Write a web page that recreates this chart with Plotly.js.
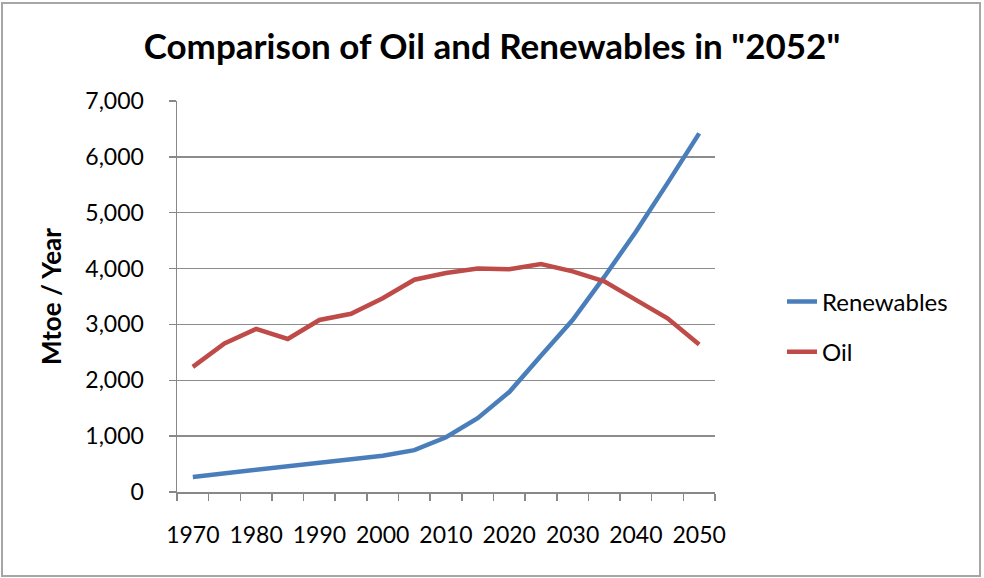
<!DOCTYPE html>
<html>
<head>
<meta charset="utf-8">
<script src="https://cdn.plot.ly/plotly-3.0.1.min.js"></script>
<style>
html,body{margin:0;padding:0;background:#fff;}
#wrap{position:relative;width:984px;height:578px;}
#chart{position:absolute;left:0;top:0;width:984px;height:578px;}
#frame{position:absolute;left:1px;top:2px;width:976px;height:571px;border:2px solid #a6a6a6;pointer-events:none;}
</style>
</head>
<body>
<div id="wrap"><div id="chart"></div><div id="frame"></div></div>
<script>
const years = [1970,1975,1980,1985,1990,1995,2000,2005,2010,2015,2020,2025,2030,2035,2040,2045,2050];
const renewables = [270,330,390,450,510,580,650,750,980,1320,1790,2440,3080,3850,4660,5530,6420];
const oil = [2240,2660,2920,2740,3080,3190,3470,3800,3920,4000,3990,4080,3950,3770,3440,3110,2640];
const xTickLabels = [1970,1980,1990,2000,2010,2020,2030,2040,2050];
const yTicks = [0,1000,2000,3000,4000,5000,6000,7000];
const seriesNames = ['Renewables','Oil'];
const font = 'Lato, "Open Sans", sans-serif';

const traces = [
  {x: years, y: renewables, name: seriesNames[0], mode: 'lines', legendgroup:'a',
   line: {color: '#4a7ebb', width: 4.5}},
  {x: years, y: oil, name: seriesNames[1], mode: 'lines', legendgroup:'b',
   line: {color: '#be4b48', width: 4.5}}
];

const layout = {
  width: 984, height: 578,
  margin: {l: 177, r: 269, t: 101, b: 86},
  paper_bgcolor: '#fff', plot_bgcolor: '#fff',
  font: {family: font, color: '#000'},
  title: {text: 'Comparison of Oil and Renewables in "2052"', x: 0.5, xanchor: 'center',
          xref: 'container', yref: 'container', y: 1 - 47/578, yanchor: 'middle',
          font: {family: font, size: 35, weight: 'bold', color: '#000'}},
  xaxis: {range: [1967.5, 2052.5], tickmode: 'array', tickvals: xTickLabels,
          ticktext: xTickLabels.map(String), ticks: '', showgrid: false, zeroline: false,
          showline: true, linecolor: '#888', linewidth: 1.5,
          ticklabelstandoff: 22,
          tickfont: {family: font, size: 23, color: '#000'},
          minor: {tick0: 1967.5, dtick: 5, ticks: 'outside', ticklen: 7, tickcolor: '#888', tickwidth: 1.5, showgrid: false},
          fixedrange: true},
  yaxis: {range: [0, 7000], tickmode: 'array', tickvals: yTicks,
          ticktext: yTicks.map(v => v.toLocaleString('en-US')),
          ticks: 'outside', ticklen: 7, tickcolor: '#888', tickwidth: 1.5,
          showgrid: true, gridcolor: '#8c8c8c', gridwidth: 1.5, zeroline: false,
          showline: true, linecolor: '#888', linewidth: 1.5,
          ticklabelstandoff: 20,
          tickfont: {family: font, size: 23, color: '#000'},
          title: {text: 'Mtoe / Year', standoff: 16, font: {family: font, size: 26, weight: 'bold', color: '#000'}},
          fixedrange: true},
  showlegend: true,
  legend: {x: (782-177)/538, xanchor: 'left', y: (492-327)/391, yanchor: 'middle',
           font: {family: font, size: 24, color: '#000'}, tracegroupgap: 16,
           bgcolor: 'rgba(0,0,0,0)'}
};

Plotly.newPlot('chart', traces, layout, {displayModeBar: false, staticPlot: true});
</script>
</body>
</html>
